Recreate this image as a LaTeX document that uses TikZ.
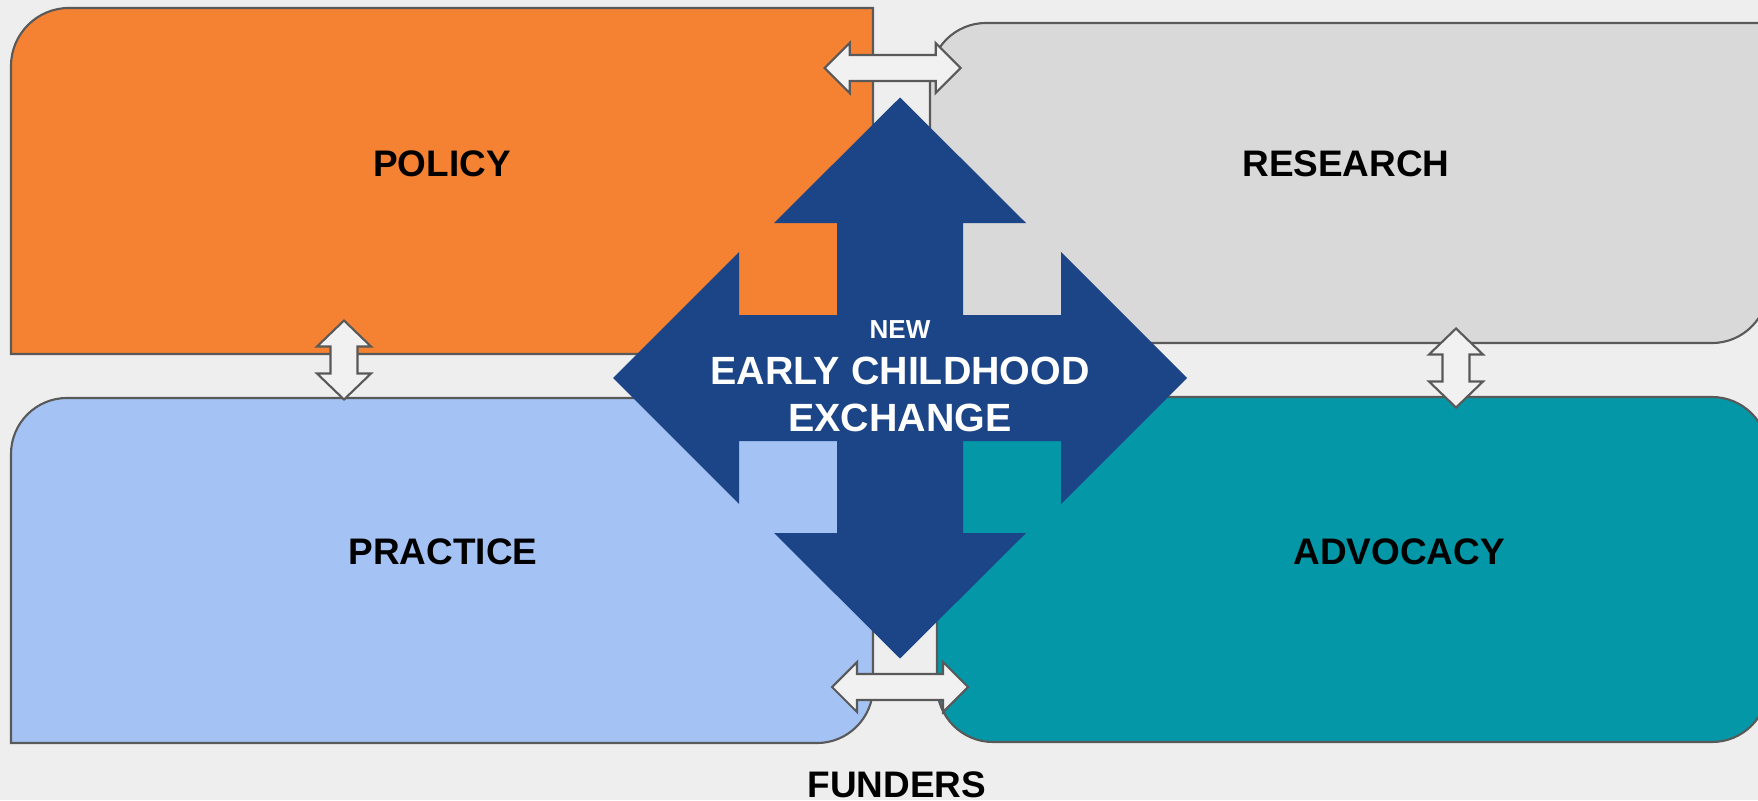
\documentclass[tikz,border=0pt]{standalone}
\usepackage{fontspec}
\setmainfont{Liberation Sans}
\definecolor{pagefill}{HTML}{EEEEEE}
\definecolor{boxline}{HTML}{595959}
\definecolor{arrowfill}{HTML}{F1F1F1}
\definecolor{policyfill}{HTML}{F58233}
\definecolor{researchfill}{HTML}{D9D9D9}
\definecolor{practicefill}{HTML}{A4C2F4}
\definecolor{advocacyfill}{HTML}{0397A7}
\definecolor{hubfill}{HTML}{1C4587}
\tikzset{
	box/.style={draw=boxline, line width=0.6pt},
	smallarrow/.style={draw=boxline, line width=0.6pt, fill=arrowfill},
	boxtext/.style={font=\fontsize{10.5}{12}\selectfont\bfseries, anchor=base, inner sep=0pt},
	hubtext/.style={text=white, font=\fontsize{11.2}{13}\selectfont\bfseries, anchor=base, inner sep=0pt},
	harrow/.pic={
		\draw[smallarrow] (-68,0) -- (-43,-25) -- (-43,-13) -- (43,-13) -- (43,-25) -- (68,0)
		-- (43,25) -- (43,13) -- (-43,13) -- (-43,25) -- cycle;
	},
	varrow/.pic={
		\draw[smallarrow] (0,-39.5) -- (27,-13.5) -- (13.5,-13.5) -- (13.5,13.5) -- (27,13.5) -- (0,39.5)
		-- (-27,13.5) -- (-13.5,13.5) -- (-13.5,-13.5) -- (-27,-13.5) -- cycle;
	}
}
\begin{document}
\begin{tikzpicture}[x=0.01cm, y=-0.01cm]
	\useasboundingbox (0,0) rectangle (1758,800);
	\fill[pagefill] (0,0) rectangle (1758,800);
	\clip (0,0) rectangle (1758,800);
	\draw[box, fill=policyfill] (11,354) -- (11,66) arc[start angle=180, end angle=90, radius=0.58cm]
		-- (873,8) -- (873,354) -- cycle;
	\draw[box, fill=researchfill] (930,343) -- (930,79) arc[start angle=180, end angle=90, radius=0.56cm]
		-- (1768,23) -- (1768,287) arc[start angle=0, end angle=-90, radius=0.56cm] -- cycle;
	\draw[box, fill=practicefill] (11,743) -- (11,454) arc[start angle=180, end angle=90, radius=0.56cm]
		-- (873,398) -- (873,687) arc[start angle=0, end angle=-90, radius=0.56cm] -- cycle;
	\draw[box, fill=advocacyfill, rounded corners=0.56cm] (937,397) rectangle (1768,742);
	\pic at (892.7,68) {harrow};
	\pic at (900,687) {harrow};
	\pic at (344,360) {varrow};
	\pic at (1456,368) {varrow};
	\fill[hubfill, shift={(900,378)}] (0,-280.5) -- (126,-155) -- (63,-155) -- (63,-63) -- (161,-63)
		-- (161,-126) -- (287,0) -- (161,126) -- (161,63) -- (63,63) -- (63,155) -- (126,155)
		-- (0,280.5) -- (-126,155) -- (-63,155) -- (-63,63) -- (-161,63) -- (-161,126) -- (-287,0)
		-- (-161,-126) -- (-161,-63) -- (-63,-63) -- (-63,-155) -- (-126,-155) -- cycle;
	\node[boxtext] (policy) at (442,176) {POLICY};
	\node[boxtext] (research) at (1346,176) {RESEARCH};
	\node[boxtext] (practice) at (443,564) {PRACTICE};
	\node[boxtext] (advocacy) at (1399,564) {ADVOCACY};
	\node[boxtext] (funders) at (897,797) {FUNDERS};
	\node[hubtext, font=\fontsize{7.4}{9}\selectfont\bfseries] (new) at (900,338.7) {NEW};
	\node[hubtext] (early) at (900,384) {EARLY CHILDHOOD};
	\node[hubtext] (exchange) at (900,431) {EXCHANGE};
\end{tikzpicture}
\end{document}
